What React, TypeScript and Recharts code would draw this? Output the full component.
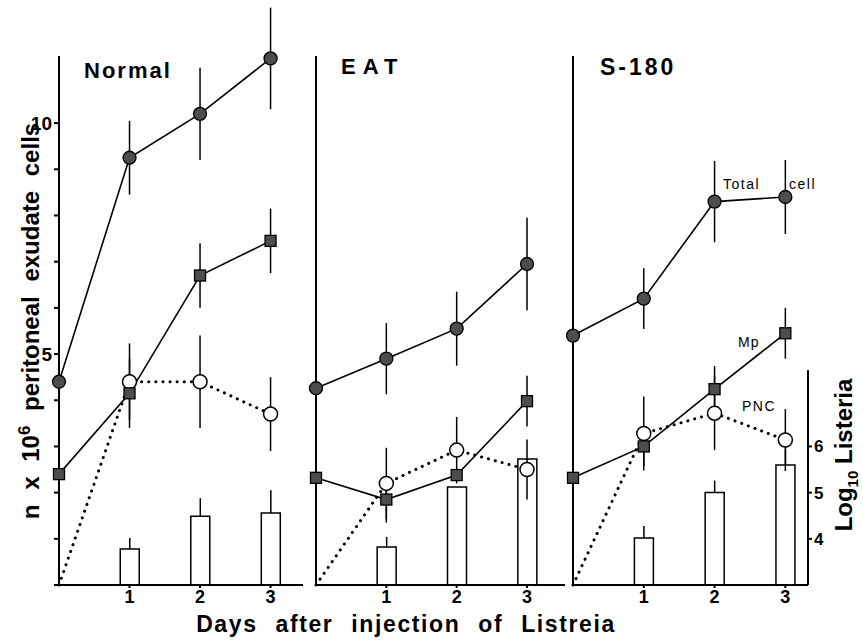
import React from 'react';
import { ComposedChart, Line, Bar, XAxis, YAxis, ErrorBar, ReferenceLine } from 'recharts';

const FONT = '"Liberation Sans", Arial, Helvetica, sans-serif';

const DAYS = [0, 1, 2, 3];
const X_TICKS = [1, 2, 3];
const CELL_TICKS = [0, 1, 2, 3, 4, 5, 6, 7, 8, 9, 10];
const CELL_LABELS = [5, 10];
const LOG_TICKS = [4, 5, 6];

// Normal
const NORMAL_TOTAL = [4.4, 9.25, 10.2, 11.4];
const NORMAL_TOTAL_ERR = [0, 0.8, 1.0, 1.1];
const NORMAL_MP = [2.4, 4.15, 6.7, 7.45];
const NORMAL_MP_ERR = [0, 0.75, 0.7, 0.7];
const NORMAL_PNC = [0, 4.4, 4.4, 3.7];
const NORMAL_PNC_ERR = [0, 0.83, 1.0, 0.8];
const NORMAL_LISTERIA = [null, 3.78, 4.49, 4.56];
const NORMAL_LISTERIA_ERR = [0, 0.24, 0.39, 0.49];

// EAT
const EAT_TOTAL = [4.26, 4.9, 5.55, 6.95];
const EAT_TOTAL_ERR = [0, 0.77, 0.8, 1.0];
const EAT_MP = [2.32, 1.85, 2.38, 3.98];
const EAT_MP_ERR = [0, 0.5, 0, 0.55];
const EAT_PNC = [0, 2.2, 2.92, 2.5];
const EAT_PNC_ERR = [0, 0.77, 0.72, 0.65];
const EAT_LISTERIA = [null, 3.82, 5.12, 5.73];
const EAT_LISTERIA_ERR = [0, 0.22, 0, 0];

// S-180
const S180_TOTAL = [5.4, 6.2, 8.3, 8.4];
const S180_TOTAL_ERR = [0, 0.66, 0.88, 0.8];
const S180_MP = [2.32, 3.0, 4.24, 5.45];
const S180_MP_ERR = [0, 0.42, 0.5, 0.55];
const S180_PNC = [0, 3.28, 3.72, 3.14];
const S180_PNC_ERR = [0, 0.8, 0.8, 0.67];
const S180_LISTERIA = [null, 4.02, 5.0, 5.6];
const S180_LISTERIA_ERR = [0, 0.26, 0.26, 0.34];

function buildRows(total, totalErr, mp, mpErr, pnc, pncErr, listeria, listeriaErr) {
  return DAYS.map((day, i) => ({
    day,
    total: total[i],
    totalErr: totalErr[i],
    mp: mp[i],
    mpErr: mpErr[i],
    pnc: pnc[i],
    pncErr: pncErr[i],
    listeria: listeria[i],
    listeriaErr: [0, listeriaErr[i]],
  }));
}

const FilledDot = (props: any) => {
  const { cx, cy } = props;
  if (cx == null || cy == null) return null;
  return <circle cx={cx} cy={cy} r={6.5} fill="#4d4d4d" stroke="#000" strokeWidth={1.3} />;
};

const SquareDot = (props: any) => {
  const { cx, cy } = props;
  if (cx == null || cy == null) return null;
  return <rect x={cx - 5.5} y={cy - 5.5} width={11} height={11} fill="#4d4d4d" stroke="#000" strokeWidth={1.3} />;
};

const OpenDot = (props: any) => {
  const { cx, cy, payload } = props;
  if (cx == null || cy == null || payload.day === 0) return null;
  return <circle cx={cx} cy={cy} r={7} fill="#fff" stroke="#000" strokeWidth={1.5} />;
};

const tickStyle = { fill: '#000', fontSize: 18, fontWeight: 'bold', fontFamily: FONT };

function Panel({ rows, left, width, axisWidth, marginRight, xMax, showLabels, showLog }: any) {
  return (
    <div style={{ position: 'absolute', left, top: 0 }}>
      <ComposedChart
        width={width}
        height={640}
        data={rows}
        margin={{ top: 3, right: marginRight, bottom: 25, left: 0 }}
      >
        <XAxis
          type="number"
          dataKey="day"
          domain={[0, xMax]}
          ticks={X_TICKS}
          interval={0}
          height={30}
          axisLine={{ stroke: '#000', strokeWidth: 2 }}
          tickLine={{ stroke: '#000', strokeWidth: 2 }}
          tickSize={3}
          tick={tickStyle}
        />
        <YAxis
          yAxisId="cells"
          type="number"
          domain={[0, 12.6]}
          ticks={CELL_TICKS}
          interval={0}
          width={axisWidth}
          axisLine={false}
          tickLine={{ stroke: '#000', strokeWidth: 2 }}
          tickSize={5}
          tick={showLabels ? { ...tickStyle, fontSize: 19 } : false}
          tickFormatter={(v) => (CELL_LABELS.includes(v) ? String(v) : '')}
        />
        <YAxis
          yAxisId="log"
          orientation="right"
          type="number"
          domain={[3, 15.6]}
          ticks={LOG_TICKS}
          interval={0}
          hide={!showLog}
          width={30}
          axisLine={false}
          tickLine={{ stroke: '#000', strokeWidth: 2 }}
          tickSize={4}
          tick={{ ...tickStyle, fontSize: 17 }}
        />
        <ReferenceLine
          yAxisId="cells"
          segment={[{ x: 0, y: 0 }, { x: 0, y: 11.45 }]}
          stroke="#000"
          strokeWidth={2}
          ifOverflow="visible"
        />
        {showLog && (
          <ReferenceLine
            yAxisId="log"
            segment={[{ x: xMax, y: 3 }, { x: xMax, y: 7.65 }]}
            stroke="#000"
            strokeWidth={2}
            ifOverflow="visible"
          />
        )}
        <Bar
          yAxisId="log"
          dataKey="listeria"
          barSize={19}
          fill="#fff"
          stroke="#000"
          strokeWidth={1.5}
          isAnimationActive={false}
        >
          <ErrorBar dataKey="listeriaErr" direction="y" width={0} stroke="#000" strokeWidth={1.5} />
        </Bar>
        <Line
          yAxisId="cells"
          dataKey="pnc"
          stroke="#000"
          strokeWidth={3}
          strokeDasharray="0.1 7"
          strokeLinecap="round"
          dot={OpenDot}
          activeDot={false}
          isAnimationActive={false}
        >
          <ErrorBar dataKey="pncErr" direction="y" width={0} stroke="#000" strokeWidth={1.5} strokeDasharray="none" />
        </Line>
        <Line
          yAxisId="cells"
          dataKey="mp"
          stroke="#000"
          strokeWidth={1.6}
          dot={SquareDot}
          activeDot={false}
          isAnimationActive={false}
        >
          <ErrorBar dataKey="mpErr" direction="y" width={0} stroke="#000" strokeWidth={1.5} />
        </Line>
        <Line
          yAxisId="cells"
          dataKey="total"
          stroke="#000"
          strokeWidth={1.6}
          dot={FilledDot}
          activeDot={false}
          isAnimationActive={false}
        >
          <ErrorBar dataKey="totalErr" direction="y" width={0} stroke="#000" strokeWidth={1.5} />
        </Line>
      </ComposedChart>
    </div>
  );
}

export default function App() {
  const normalRows = buildRows(NORMAL_TOTAL, NORMAL_TOTAL_ERR, NORMAL_MP, NORMAL_MP_ERR, NORMAL_PNC, NORMAL_PNC_ERR, NORMAL_LISTERIA, NORMAL_LISTERIA_ERR);
  const eatRows = buildRows(EAT_TOTAL, EAT_TOTAL_ERR, EAT_MP, EAT_MP_ERR, EAT_PNC, EAT_PNC_ERR, EAT_LISTERIA, EAT_LISTERIA_ERR);
  const s180Rows = buildRows(S180_TOTAL, S180_TOTAL_ERR, S180_MP, S180_MP_ERR, S180_PNC, S180_PNC_ERR, S180_LISTERIA, S180_LISTERIA_ERR);

  const bold = { fontFamily: FONT, fontWeight: 'bold', fill: '#000' } as any;
  const plain = { fontFamily: FONT, fill: '#000' } as any;

  return (
    <div style={{ position: 'absolute', left: 0, top: 0, width: 863, height: 640, background: '#fff', overflow: 'hidden' }}>
      <Panel rows={normalRows} left={0} width={310} axisWidth={59} marginRight={7} xMax={3.46} showLabels />
      <Panel rows={eatRows} left={250} width={320} axisWidth={66} marginRight={5} xMax={3.54} />
      <Panel rows={s180Rows} left={500} width={338} axisWidth={73} marginRight={0} xMax={3.32} showLog />

      <svg width={863} height={640} style={{ position: 'absolute', left: 0, top: 0, pointerEvents: 'none' }}>
        <text x={84} y={78} fontSize={22} letterSpacing={2} {...bold}>Normal</text>
        <text x={341} y={74} fontSize={22} letterSpacing={7} {...bold}>EAT</text>
        <text x={600} y={75} fontSize={23} letterSpacing={3} {...bold}>S-180</text>

        <text x={723} y={189} fontSize={14} letterSpacing={1.5} {...plain}>Total</text>
        <text x={789} y={189} fontSize={14} letterSpacing={1.5} {...plain}>cell</text>
        <text x={738} y={347} fontSize={14} letterSpacing={1} {...plain}>Mp</text>
        <text x={742} y={411} fontSize={14} letterSpacing={1.5} {...plain}>PNC</text>

        <text transform="translate(39, 321) rotate(-90)" textAnchor="middle" fontSize={24} wordSpacing={8} {...bold}>
          n x 10<tspan dy={-9} fontSize={17}>6</tspan><tspan dy={9}> peritoneal  exudate  cells</tspan>
        </text>

        <text transform="translate(852, 455) rotate(-90)" textAnchor="middle" fontSize={24} {...bold}>
          Log<tspan dy={6} fontSize={15}>10</tspan><tspan dy={-6}>  Listeria</tspan>
        </text>

        <text x={406} y={632} textAnchor="middle" fontSize={23} letterSpacing={1.6} wordSpacing={10} {...bold}>
          Days after injection of Listreia
        </text>
      </svg>
    </div>
  );
}
